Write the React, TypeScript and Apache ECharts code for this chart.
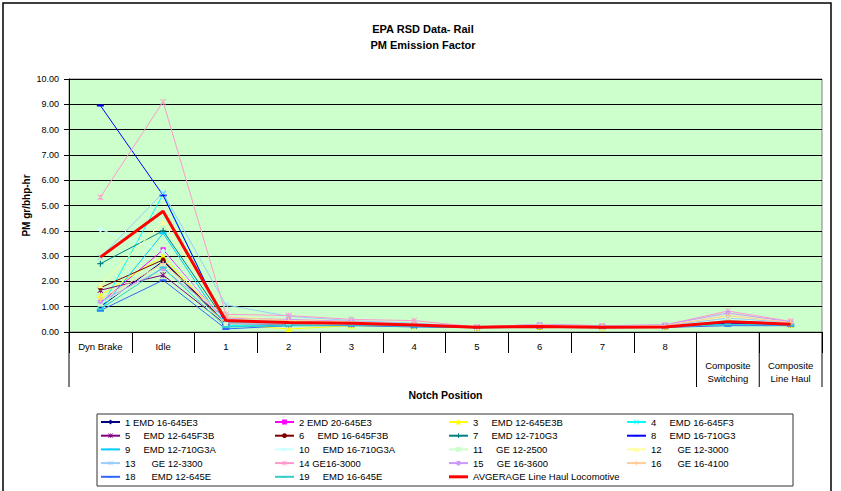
import React, { useEffect, useRef } from "react";
import * as echarts from "echarts";

const categories = ["Dyn Brake", "Idle", "1", "2", "3", "4", "5", "6", "7", "8", "Composite Switching", "Composite Line Haul"];
const yTicks = [0, 10, 1];

const seriesNames = [
  "1 EMD 16-645E3",
  "2 EMD 20-645E3",
  "3     EMD 12-645E3B",
  "4     EMD 16-645F3",
  "5     EMD 12-645F3B",
  "6     EMD 16-645F3B",
  "7     EMD 12-710G3",
  "8     EMD 16-710G3",
  "9     EMD 12-710G3A",
  "10     EMD 16-710G3A",
  "11     GE 12-2500",
  "12      GE 12-3000",
  "13      GE 12-3300",
  "14 GE16-3000",
  "15     GE 16-3600",
  "16      GE 16-4100",
  "18      EMD 12-645E",
  "19     EMD 16-645E",
];
const avgName = "AVGERAGE Line Haul Locomotive";

const s1 = [1.0, 2.8, 0.3, 0.3, 0.3, 0.25, 0.18, 0.2, 0.18, 0.2, 0.35, 0.27];
const s2 = [1.15, 3.25, 0.35, 0.35, 0.32, 0.25, 0.18, 0.22, 0.2, 0.2, 0.4, 0.3];
const s3 = [1.45, 3.0, 0.3, 0.12, 0.25, 0.22, 0.17, 0.2, 0.18, 0.2, 0.38, 0.28];
const s4 = [0.9, 5.45, 0.25, 0.3, 0.3, 0.22, 0.18, 0.25, 0.2, 0.22, 0.32, 0.3];
const s5 = [1.65, 2.25, 0.3, 0.3, 0.3, 0.25, 0.18, 0.22, 0.2, 0.22, 0.4, 0.3];
const s6 = [1.75, 2.85, 0.35, 0.32, 0.3, 0.25, 0.2, 0.2, 0.18, 0.2, 0.4, 0.3];
const s7 = [2.7, 4.0, 0.4, 0.38, 0.35, 0.28, 0.2, 0.25, 0.2, 0.22, 0.45, 0.33];
const s8 = [8.95, 5.4, 0.3, 0.35, 0.33, 0.25, 0.18, 0.2, 0.2, 0.2, 0.35, 0.28];
const s9 = [0.85, 3.9, 0.2, 0.28, 0.28, 0.22, 0.17, 0.2, 0.18, 0.2, 0.3, 0.25];
const s10 = [4.05, 3.2, 0.35, 0.35, 0.3, 0.25, 0.2, 0.22, 0.2, 0.2, 0.5, 0.35];
const s11 = [1.1, 2.6, 0.3, 0.32, 0.3, 0.25, 0.2, 0.25, 0.2, 0.22, 0.45, 0.3];
const s12 = [1.85, 4.35, 0.6, 0.5, 0.45, 0.3, 0.2, 0.25, 0.22, 0.25, 0.6, 0.4];
const s13 = [2.95, 5.5, 1.07, 0.62, 0.45, 0.35, 0.2, 0.25, 0.22, 0.25, 0.55, 0.38];
const s14 = [5.33, 9.1, 0.7, 0.65, 0.5, 0.45, 0.2, 0.3, 0.25, 0.28, 0.83, 0.42];
const s15 = [1.2, 2.5, 0.55, 0.5, 0.42, 0.3, 0.2, 0.3, 0.25, 0.28, 0.75, 0.4];
const s16 = [1.3, 2.7, 0.6, 0.45, 0.4, 0.3, 0.2, 0.28, 0.22, 0.25, 0.65, 0.38];
const s18 = [0.85, 2.05, 0.12, 0.25, 0.25, 0.2, 0.17, 0.18, 0.17, 0.18, 0.25, 0.25];
const s19 = [0.9, 2.55, 0.2, 0.25, 0.28, 0.22, 0.18, 0.2, 0.18, 0.2, 0.3, 0.27];
const avg = [2.96, 4.77, 0.45, 0.38, 0.35, 0.28, 0.19, 0.22, 0.19, 0.2, 0.41, 0.31];

const seriesData = [s1, s2, s3, s4, s5, s6, s7, s8, s9, s10, s11, s12, s13, s14, s15, s16, s18, s19];

const X_PATH = "path://M0,1L1,0L5,4L9,0L10,1L6,5L10,9L9,10L5,6L1,10L0,9L4,5Z";
const PLUS_PATH = "path://M4,0L6,0L6,4L10,4L10,6L6,6L6,10L4,10L4,6L0,6L0,4L4,4Z";
const STAR_PATH = "path://M0,1L1,0L5,4L9,0L10,1L6,5L10,9L9,10L5,6L1,10L0,9L4,5Z M4.4,0L4.4,10L5.6,10L5.6,0Z";
// horizontal dash inside a square bounding box (tiny corner specks keep the box square)
const DASH_PATH = "path://M0,3.6L10,3.6L10,6.4L0,6.4Z M5,0L5.01,0L5,0.01Z M5,10L5.01,10L5,9.99Z";
const THICK_LINE_ICON = "path://M0,0L19,0L19,3L0,3Z";

const seriesStyles: { color: string; symbol: string; size: number }[] = [
  { color: "#000080", symbol: "diamond", size: 6 },
  { color: "#FF00FF", symbol: "rect", size: 5 },
  { color: "#FFFF00", symbol: "triangle", size: 6 },
  { color: "#00FFFF", symbol: X_PATH, size: 6 },
  { color: "#800080", symbol: STAR_PATH, size: 6 },
  { color: "#800000", symbol: "circle", size: 5 },
  { color: "#008080", symbol: PLUS_PATH, size: 6 },
  { color: "#0000FF", symbol: DASH_PATH, size: 7 },
  { color: "#00CCFF", symbol: DASH_PATH, size: 7 },
  { color: "#CCFFFF", symbol: "diamond", size: 6 },
  { color: "#CCFFCC", symbol: "rect", size: 5 },
  { color: "#FFFF99", symbol: "triangle", size: 6 },
  { color: "#99CCFF", symbol: X_PATH, size: 6 },
  { color: "#FF99CC", symbol: STAR_PATH, size: 6 },
  { color: "#CC99FF", symbol: "circle", size: 5 },
  { color: "#FFCC99", symbol: PLUS_PATH, size: 6 },
  { color: "#3366FF", symbol: DASH_PATH, size: 7 },
  { color: "#33CCCC", symbol: DASH_PATH, size: 7 },
];

const FONT = "'Liberation Sans', Arial, sans-serif";
const GRID_LEFT = 69;
const GRID_RIGHT = 19;
const GRID_TOP = 79;
const GRID_BOTTOM = 159;
const W = 841;
const H = 491;

export default function App() {
  const ref = useRef<HTMLDivElement>(null);

  useEffect(() => {
    if (!ref.current) return;
    const chart = echarts.init(ref.current, null, { renderer: "svg" });

    const gridWidth = W - GRID_LEFT - GRID_RIGHT;
    const band = gridWidth / categories.length;
    const axisY = H - GRID_BOTTOM;
    const longSepIdx = [0, 10, 11, 12];

    const lineSeries: any[] = seriesData.map((d, i) => ({
      name: seriesNames[i],
      type: "line",
      data: d,
      symbol: seriesStyles[i].symbol,
      symbolSize: seriesStyles[i].size,
      showSymbol: true,
      lineStyle: { width: 1, color: seriesStyles[i].color },
      itemStyle: { color: seriesStyles[i].color, borderWidth: 0 },
      emphasis: { disabled: true },
    }));
    lineSeries.push({
      name: avgName,
      type: "line",
      data: avg,
      symbol: "none",
      lineStyle: { width: 3, color: "#FF0000" },
      itemStyle: { color: "#FF0000" },
      emphasis: { disabled: true },
      z: 5,
    });

    const allNames: any[] = [...seriesNames, { name: avgName, icon: THICK_LINE_ICON }];
    const cols: any[][] = [[], [], [], []];
    allNames.forEach((n, i) => cols[i % 4].push(n));
    const colLeft = [100, 274, 448, 626];

    const legends = cols.map((c, i) => ({
      data: c,
      orient: "vertical",
      left: colLeft[i],
      top: 416,
      padding: 0,
      itemWidth: 19,
      itemHeight: 6,
      itemGap: 1.7,
      symbolKeepAspect: true,
      selectedMode: false,
      textStyle: { fontSize: 9.5, lineHeight: 12, color: "#000", fontFamily: FONT },
    }));

    const graphics: any[] = [
      {
        type: "rect",
        shape: { x: 3, y: 3, width: 828, height: 520 },
        style: { fill: "none", stroke: "#000", lineWidth: 1.5 },
        silent: true,
      },
      {
        type: "rect",
        shape: { x: 97, y: 414, width: 696, height: 72 },
        style: { fill: "none", stroke: "#333", lineWidth: 1 },
        silent: true,
      },
      ...longSepIdx.map((k) => ({
        type: "line",
        shape: { x1: GRID_LEFT + k * band, y1: axisY, x2: GRID_LEFT + k * band, y2: 387 },
        style: { stroke: "#000", lineWidth: 1 },
        silent: true,
      })),
    ];

    chart.setOption({
      animation: false,
      backgroundColor: "#fff",
      textStyle: { fontFamily: FONT },
      title: {
        text: "EPA RSD Data- Rail\nPM Emission Factor",
        left: 418,
        top: 16,
        textAlign: "center",
        textStyle: { fontSize: 11, fontWeight: "bold", lineHeight: 16, color: "#000", fontFamily: FONT },
      },
      legend: legends,
      grid: {
        left: GRID_LEFT,
        right: GRID_RIGHT,
        top: GRID_TOP,
        bottom: GRID_BOTTOM,
        show: true,
        backgroundColor: "#CCFFCC",
        borderColor: "#808080",
        borderWidth: 1,
      },
      xAxis: {
        type: "category",
        data: categories,
        boundaryGap: true,
        name: "Notch Position",
        nameLocation: "middle",
        nameGap: 57,
        nameMoveOverlap: false,
        nameTextStyle: { fontSize: 10.5, fontWeight: "bold", color: "#000", fontFamily: FONT },
        axisLine: { show: true, lineStyle: { color: "#000", width: 1 } },
        axisTick: { show: true, length: 21, lineStyle: { color: "#000" } },
        axisLabel: {
          interval: 0,
          margin: 8,
          fontSize: 9.5,
          lineHeight: 12,
          color: "#000",
          fontFamily: FONT,
          formatter: (v: string) =>
            v.startsWith("Composite") ? `{c|${v.replace(" ", "\n")}}` : v,
          rich: {
            c: { fontSize: 9.5, lineHeight: 13, padding: [38, 0, 0, 0], color: "#000", fontFamily: FONT },
          },
        },
        splitLine: { show: false },
      },
      yAxis: {
        type: "value",
        min: yTicks[0],
        max: yTicks[1],
        interval: yTicks[2],
        name: "PM gr/bhp-hr",
        nameLocation: "middle",
        nameGap: 38,
        nameMoveOverlap: false,
        nameRotate: 90,
        nameTextStyle: { fontSize: 10, fontWeight: "bold", color: "#000", fontFamily: FONT },
        axisLine: { show: true, lineStyle: { color: "#000", width: 1 } },
        axisTick: { show: true, length: 5, lineStyle: { color: "#000" } },
        axisLabel: {
          margin: 10,
          fontSize: 9,
          color: "#000",
          fontFamily: FONT,
          formatter: (v: number) => v.toFixed(2),
        },
        splitLine: { show: true, lineStyle: { color: "#000", width: 1 } },
      },
      series: lineSeries,
      graphic: graphics,
    });

    return () => chart.dispose();
  }, []);

  return (
    <div
      ref={ref}
      style={{ position: "fixed", left: 0, top: 0, width: W, height: H, background: "#fff" }}
    />
  );
}
